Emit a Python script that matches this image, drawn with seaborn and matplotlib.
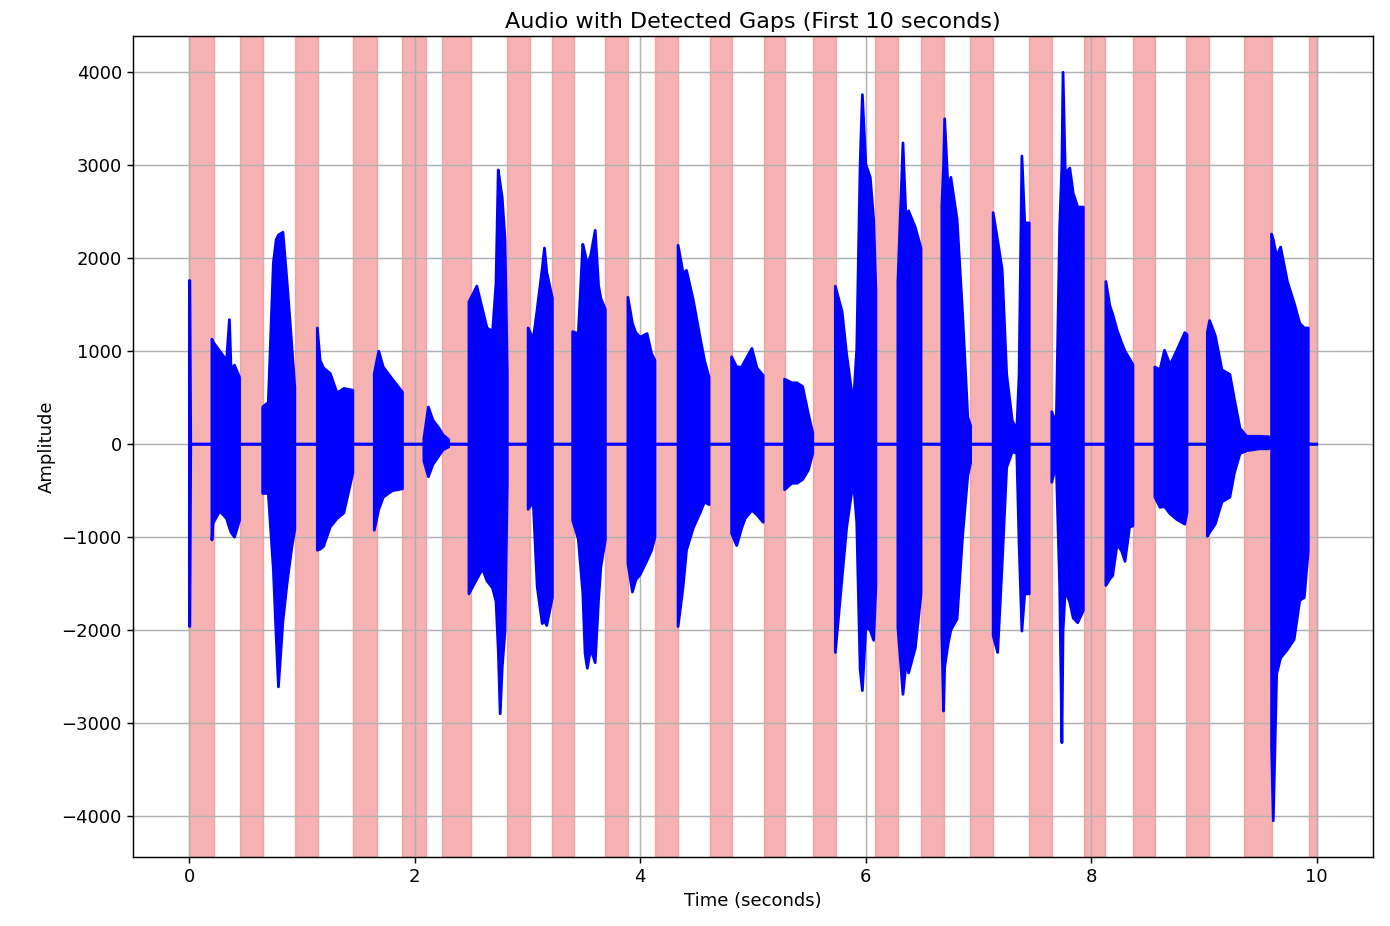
import numpy as np
import pandas as pd
import matplotlib
matplotlib.use("Agg")
import matplotlib.pyplot as plt
import seaborn as sns

# ---------------- data ----------------
# detected gaps (seconds)
gap_starts = [0.00, 0.45, 0.935, 1.455, 1.89, 2.245, 2.815, 3.22, 3.683, 4.126,
              4.614, 5.095, 5.533, 6.086, 6.491, 6.928, 7.451, 7.932, 8.37, 8.843,
              9.351, 9.93]
gap_ends = [0.218, 0.649, 1.137, 1.66, 2.097, 2.496, 3.019, 3.409, 3.891, 4.334,
            4.813, 5.286, 5.732, 6.29, 6.692, 7.126, 7.649, 8.123, 8.569, 9.041,
            9.60, 10.0]

# voiced segments: envelope of the waveform (time s, upper / lower amplitude)
voiced_times = [
    [0.0, 0.004, 0.012],
    [0.20, 0.21, 0.27, 0.33, 0.355, 0.37, 0.40, 0.445],
    [0.65, 0.70, 0.745, 0.77, 0.79, 0.83, 0.87, 0.91, 0.935],
    [1.135, 1.16, 1.19, 1.25, 1.31, 1.37, 1.45],
    [1.64, 1.68, 1.72, 1.80, 1.89],
    [2.08, 2.12, 2.16, 2.21, 2.25, 2.30],
    [2.48, 2.55, 2.60, 2.64, 2.69, 2.72, 2.74, 2.757, 2.775, 2.80, 2.82],
    [3.005, 3.05, 3.085, 3.13, 3.15, 3.17, 3.22],
    [3.40, 3.45, 3.49, 3.51, 3.53, 3.56, 3.60, 3.63, 3.65, 3.69],
    [3.89, 3.93, 3.96, 4.00, 4.06, 4.10, 4.13],
    [4.335, 4.38, 4.41, 4.47, 4.53, 4.57, 4.61],
    [4.81, 4.855, 4.90, 4.93, 4.99, 5.035, 5.09],
    [5.28, 5.345, 5.39, 5.44, 5.49, 5.53],
    [5.73, 5.79, 5.83, 5.89, 5.92, 5.95, 5.97, 6.00, 6.04, 6.07, 6.09],
    [6.285, 6.33, 6.36, 6.38, 6.44, 6.49],
    [6.675, 6.69, 6.70, 6.73, 6.755, 6.81, 6.86, 6.905, 6.93],
    [7.13, 7.17, 7.21, 7.25, 7.30, 7.34, 7.36, 7.385, 7.41, 7.45],
    [7.65, 7.69, 7.72, 7.74, 7.75, 7.77, 7.81, 7.84, 7.88, 7.93],
    [8.13, 8.165, 8.19, 8.23, 8.27, 8.30, 8.34, 8.37],
    [8.565, 8.61, 8.65, 8.70, 8.76, 8.83, 8.85],
    [9.03, 9.05, 9.10, 9.16, 9.23, 9.27, 9.32, 9.38, 9.49, 9.575],
    [9.60, 9.615, 9.645, 9.68, 9.74, 9.80, 9.85, 9.89, 9.925],
]
voiced_upper = [
    [1760, 1760, 150],
    [1130, 1100, 1000, 900, 1340, 800, 850, 720],
    [400, 450, 1950, 2200, 2250, 2280, 1690, 1040, 610],
    [1250, 900, 820, 760, 550, 600, 580],
    [760, 1000, 830, 700, 560],
    [60, 400, 260, 180, 100, 50],
    [1530, 1700, 1450, 1250, 1215, 1730, 2950, 2800, 2650, 2200, 770],
    [1250, 1130, 1450, 1890, 2110, 1850, 1570],
    [1210, 1190, 2150, 2050, 1930, 2030, 2300, 1700, 1570, 1450],
    [1580, 1300, 1200, 1150, 1190, 975, 900],
    [2140, 1840, 1870, 1550, 1150, 900, 720],
    [940, 830, 830, 900, 1030, 820, 740],
    [700, 660, 660, 620, 330, 120],
    [1700, 1425, 970, 430, 1020, 3010, 3760, 3010, 2870, 2420, 1650],
    [1740, 3240, 2330, 2510, 2330, 2110],
    [2560, 3000, 3500, 2740, 2870, 2420, 1380, 290, 200],
    [2490, 2190, 1880, 750, 250, 160, 740, 3100, 2380, 2380],
    [350, 220, 2330, 3000, 4000, 2910, 2970, 2700, 2550, 2550],
    [1750, 1490, 1400, 1225, 1090, 1000, 920, 855],
    [830, 800, 1010, 855, 1010, 1200, 1180],
    [1200, 1330, 1170, 800, 750, 485, 170, 85, 85, 80],
    [2260, 2200, 2020, 2120, 1750, 1520, 1300, 1250, 1250],
]
voiced_lower = [
    [-1960, -1960, -100],
    [-1030, -850, -720, -800, -900, -950, -1000, -820],
    [-530, -530, -1350, -2070, -2610, -1900, -1460, -1100, -920],
    [-1140, -1130, -1100, -890, -800, -740, -310],
    [-925, -700, -570, -500, -480],
    [-180, -350, -220, -130, -60, -30],
    [-1610, -1450, -1340, -1470, -1550, -1690, -2210, -2900, -2400, -2010, -420],
    [-700, -620, -1530, -1930, -1900, -1950, -1650],
    [-820, -1020, -1600, -2250, -2410, -2200, -2350, -1670, -1320, -1030],
    [-1280, -1590, -1460, -1400, -1250, -1140, -1000],
    [-1960, -1530, -1140, -900, -740, -620, -650],
    [-960, -1090, -900, -800, -710, -760, -840],
    [-490, -420, -420, -380, -280, -100],
    [-2240, -1430, -900, -390, -840, -2420, -2650, -1970, -2000, -2110, -1520],
    [-1970, -2690, -2330, -2460, -2190, -1610],
    [-2060, -2870, -2400, -2150, -2000, -1880, -970, -340, -200],
    [-2060, -2240, -1290, -250, -80, -100, -1060, -2010, -1610, -1610],
    [-410, -210, -1520, -3210, -2000, -1570, -1700, -1870, -1920, -1790],
    [-1520, -1450, -1415, -1075, -1150, -1260, -890, -880],
    [-570, -680, -670, -750, -810, -860, -730],
    [-990, -950, -860, -620, -570, -310, -100, -70, -50, -50],
    [-3260, -4050, -2470, -2300, -2210, -2100, -1680, -1650, -1150],
]
clip_start, clip_end = 0.0, 10.0

# ---------------- build the envelope series ----------------
t_all, up_all, lo_all = [clip_start], [0.0], [0.0]
for ts, us, ls in zip(voiced_times, voiced_upper, voiced_lower):
    t_all += [ts[0]] + list(ts) + [ts[-1]]
    up_all += [0.0] + list(us) + [0.0]
    lo_all += [0.0] + list(ls) + [0.0]
t_all.append(clip_end); up_all.append(0.0); lo_all.append(0.0)
df = pd.DataFrame({"time": t_all, "upper": up_all, "lower": lo_all})

# ---------------- plot ----------------
s = 1.3
plt.rcParams.update({
    "font.size": 10 * s,
    "axes.linewidth": 0.8 * s,
    "xtick.major.size": 3.5 * s, "ytick.major.size": 3.5 * s,
    "xtick.major.width": 0.8 * s, "ytick.major.width": 0.8 * s,
    "grid.linewidth": 0.8 * s,
})
fig = plt.figure(figsize=(13.9, 9.26), dpi=100)
ax = fig.add_axes([0.0957, 0.0745, 0.8921, 0.8866])

for gs, ge in zip(gap_starts, gap_ends):
    ax.axvspan(gs, ge, color="lightcoral", alpha=0.6, zorder=1)

ax.fill_between(df["time"], df["lower"], df["upper"], color="blue",
                linewidth=0, zorder=2)
sns.lineplot(data=df, x="time", y="upper", ax=ax, color="blue", lw=2.0,
             estimator=None, sort=False, zorder=2.1)
sns.lineplot(data=df, x="time", y="lower", ax=ax, color="blue", lw=2.0,
             estimator=None, sort=False, zorder=2.1)

ax.set_xlim(-0.5, 10.5)
ax.set_ylim(-4440, 4390)
ax.set_xticks([0, 2, 4, 6, 8, 10])
ax.set_yticks(np.arange(-4000, 4001, 1000))
ax.grid(True, color="#b0b0b0", zorder=1.5)
ax.set_title("Audio with Detected Gaps (First 10 seconds)", fontsize=12.3 * s)
ax.set_xlabel("Time (seconds)", fontsize=10 * s)
ax.set_ylabel("Amplitude", fontsize=10 * s)

fig.savefig("out.png", dpi=100)
